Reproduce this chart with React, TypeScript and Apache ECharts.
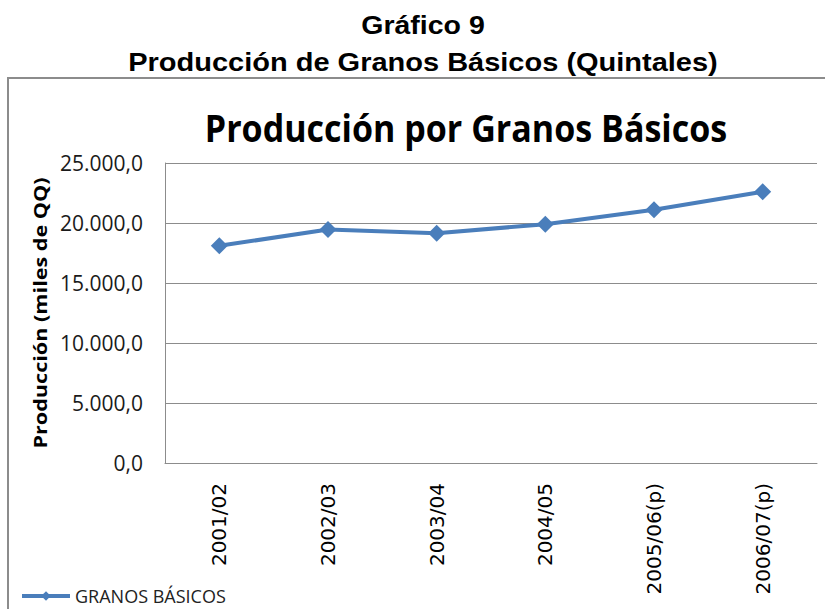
import React, { useEffect, useRef } from "react";
import * as echarts from "echarts";

const categories = ["2001/02", "2002/03", "2003/04", "2004/05", "2005/06(p)", "2006/07(p)"];
const granosBasicos = [18100, 19450, 19150, 19900, 21100, 22600];
const seriesName = "GRANOS BÁSICOS";
const mainTitle = "Gráfico 9";
const subTitle = "Producción de Granos Básicos (Quintales)";
const chartTitle = "Producción por Granos Básicos";
const yAxisName = "Producción (miles de QQ)";

const fmt = (v: number) => {
  const s = v.toFixed(1);
  const [ip, dp] = s.split(".");
  return ip.replace(/\B(?=(\d{3})+(?!\d))/g, ".") + "," + dp;
};

export default function App() {
  const ref = useRef<HTMLDivElement>(null);
  useEffect(() => {
    if (!ref.current) return;
    const chart = echarts.init(ref.current, undefined, { renderer: "svg" });
    const font = "'Open Sans', 'Noto Sans', sans-serif";
    const arial = "'Liberation Sans', Arial, sans-serif";
    chart.setOption({
      animation: false,
      backgroundColor: "#ffffff",
      graphic: [
        {
          type: "rect",
          shape: { x: 8, y: 78, width: 840, height: 560 },
          style: { fill: "none", stroke: "#8c8c8c", lineWidth: 2 },
          z: -1,
        },
        {
          type: "text",
          x: 423,
          y: 25.5,
          scaleX: 1.14,
          style: { text: mainTitle, font: "bold 25px " + arial, fill: "#000", textAlign: "center", textVerticalAlign: "middle" },
        },
        {
          type: "text",
          x: 423,
          y: 62,
          scaleX: 1.16,
          style: { text: subTitle, font: "bold 25px " + arial, fill: "#000", textAlign: "center", textVerticalAlign: "middle" },
        },
        {
          type: "text",
          x: 466,
          y: 127,
          scaleX: 0.92,
          style: { text: chartTitle, font: "bold 37px " + font, fill: "#000", textAlign: "center", textVerticalAlign: "middle" },
        },
        {
          type: "text",
          x: 40,
          y: 313,
          rotation: Math.PI / 2,
          scaleX: 1.2,
          style: { text: yAxisName, font: "bold 18px " + font, fill: "#000", textAlign: "center", textVerticalAlign: "middle" },
        },
      ],
      legend: {
        left: 20,
        top: 586,
        padding: 0,
        itemWidth: 48,
        itemHeight: 12,
        itemGap: 6,
        data: [{ name: seriesName, lineStyle: { width: 4 } }],
        textStyle: { fontFamily: font, fontSize: 18, color: "#222", lineHeight: 20 },
      },
      grid: { left: 165, top: 163, width: 652, height: 300, containLabel: false },
      xAxis: {
        type: "category",
        data: categories,
        boundaryGap: true,
        axisLine: { lineStyle: { color: "#8c8c8c", width: 1 } },
        axisTick: { show: false },
        axisLabel: { rotate: 90, fontFamily: "'DejaVu Sans', sans-serif", fontSize: 20, color: "#000", margin: 20 },
      },
      yAxis: {
        type: "value",
        min: 0,
        max: 25000,
        interval: 5000,
        axisLine: { show: true, lineStyle: { color: "#8c8c8c", width: 1 } },
        axisTick: { show: false },
        splitLine: { lineStyle: { color: "#8c8c8c", width: 1 } },
        axisLabel: { formatter: fmt, fontFamily: font, fontSize: 21, color: "#1a1a1a", margin: 22 },
      },
      series: [
        {
          name: seriesName,
          type: "line",
          data: granosBasicos,
          symbol: "diamond",
          symbolSize: 17,
          itemStyle: { color: "#4a7ebb" },
          lineStyle: { color: "#4a7ebb", width: 4 },
        },
      ],
    });
    return () => chart.dispose();
  }, []);
  return <div ref={ref} style={{ position: "absolute", left: 0, top: 0, width: 825, height: 609 }} />;
}
